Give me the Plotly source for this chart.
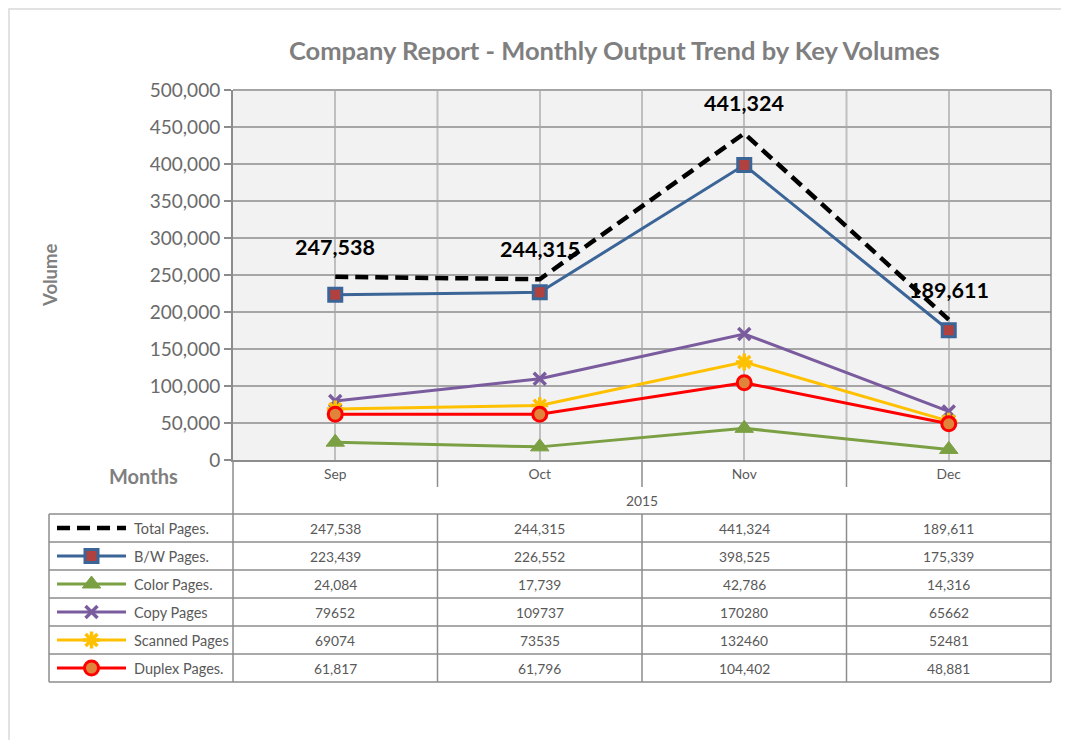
import plotly.graph_objects as go

W, H = 1069, 740

months = ["Sep", "Oct", "Nov", "Dec"]
year_label = "2015"
total_pages = [247538, 244315, 441324, 189611]
bw_pages = [223439, 226552, 398525, 175339]
color_pages = [24084, 17739, 42786, 14316]
copy_pages = [79652, 109737, 170280, 65662]
scanned_pages = [69074, 73535, 132460, 52481]
duplex_pages = [61817, 61796, 104402, 48881]

series_names = ["Total Pages.", "B/W Pages.", "Color Pages.", "Copy Pages", "Scanned Pages", "Duplex Pages."]
series_values = [total_pages, bw_pages, color_pages, copy_pages, scanned_pages, duplex_pages]
table_texts = [
    ["247,538", "244,315", "441,324", "189,611"],
    ["223,439", "226,552", "398,525", "175,339"],
    ["24,084", "17,739", "42,786", "14,316"],
    ["79652", "109737", "170280", "65662"],
    ["69074", "73535", "132460", "52481"],
    ["61,817", "61,796", "104,402", "48,881"],
]

FONT = "Lato"
GRAY = "#595959"
TICK_GRAY = "#6a6a6a"
TITLE_GRAY = "#7f7f7f"
LINE_GRAY = "#8c8c8c"

styles = [
    dict(line=dict(color="black", width=4.5, dash="13px,7px"), mode="lines", marker=None),
    dict(line=dict(color="#3b6597", width=3), mode="lines+markers",
         marker=dict(symbol="square", size=13, color="#b0413e", line=dict(color="#3b6597", width=3))),
    dict(line=dict(color="#7ba043", width=3), mode="lines+markers",
         marker=dict(symbol="triangle-up", size=16, color="#7ba043", line=dict(color="#7ba043", width=1))),
    dict(line=dict(color="#7a5c9e", width=3), mode="lines+markers",
         marker=dict(symbol="x-thin", size=12, color="#7a5c9e", line=dict(color="#7a5c9e", width=3.5))),
    dict(line=dict(color="#ffc000", width=3), mode="lines+markers",
         marker=dict(symbol="asterisk", size=14, color="#ffc000", line=dict(color="#ffc000", width=3.5))),
    dict(line=dict(color="#ff0000", width=3), mode="lines+markers",
         marker=dict(symbol="circle", size=14, color="#e0843c", line=dict(color="#ff0000", width=3))),
]

# the page body adds an 8px offset; compensate so pixel positions match
OX, OY = 8, 8


def px(x):
    return (x - OX) / W


def py(y):
    return 1 - (y - OY) / H


PL, PR, PT, PB = 233, 1051, 90, 460

fig = go.Figure()

order = [1, 2, 3, 4, 5, 0]
for i in order:
    st = styles[i]
    kw = dict(x=months, y=series_values[i], name=series_names[i], mode=st["mode"],
              line=st["line"], showlegend=False, xaxis="x", yaxis="y",
              hoverinfo="x+y+name")
    if st["marker"] is not None:
        kw["marker"] = st["marker"]
    fig.add_trace(go.Scatter(**kw))

row_top = 514
row_h = 28
for i in range(6):
    yc = row_top + row_h * (i + 0.5)
    st = styles[i]
    fig.add_trace(go.Scatter(x=[57, 126], y=[yc, yc], mode="lines", line=st["line"],
                             xaxis="x2", yaxis="y2", showlegend=False, hoverinfo="skip"))
    if st["marker"] is not None:
        fig.add_trace(go.Scatter(x=[91.5], y=[yc], mode="markers", marker=st["marker"],
                                 xaxis="x2", yaxis="y2", showlegend=False, hoverinfo="skip"))

shapes = []
shapes.append(dict(type="rect", xref="paper", yref="paper", x0=px(9), x1=px(1090), y0=py(9), y1=py(770),
                   line=dict(color="#d9d9d9", width=1.5), fillcolor="rgba(0,0,0,0)", layer="below"))
shapes.append(dict(type="rect", xref="paper", yref="paper", x0=px(PL), x1=px(PR), y0=py(PB), y1=py(PT),
                   line=dict(width=0), fillcolor="#f2f2f2", layer="below"))
for b in [0.5, 1.5, 2.5]:
    shapes.append(dict(type="line", xref="x", yref="paper", x0=b, x1=b, y0=py(PB), y1=py(PT),
                       line=dict(color="#bfbfbf", width=2), layer="below"))
    shapes.append(dict(type="line", xref="x", yref="paper", x0=b, x1=b, y0=py(487), y1=py(PB),
                       line=dict(color=LINE_GRAY, width=1.5)))
    shapes.append(dict(type="line", xref="x", yref="paper", x0=b, x1=b, y0=py(682), y1=py(514),
                       line=dict(color=LINE_GRAY, width=1.5)))
shapes.append(dict(type="line", xref="paper", yref="paper", x0=px(PL), x1=px(PR), y0=py(PT), y1=py(PT),
                   line=dict(color="#a6a6a6", width=2)))
shapes.append(dict(type="line", xref="paper", yref="paper", x0=px(PR), x1=px(PR), y0=py(682), y1=py(PT),
                   line=dict(color=LINE_GRAY, width=1.5)))
shapes.append(dict(type="line", xref="paper", yref="paper", x0=px(PL), x1=px(PL), y0=py(682), y1=py(PB),
                   line=dict(color=LINE_GRAY, width=1.5)))
shapes.append(dict(type="line", xref="paper", yref="paper", x0=px(49), x1=px(49), y0=py(682), y1=py(514),
                   line=dict(color=LINE_GRAY, width=1.5)))
for k in range(7):
    yy = row_top + row_h * k
    shapes.append(dict(type="line", xref="paper", yref="paper", x0=px(49), x1=px(PR), y0=py(yy), y1=py(yy),
                       line=dict(color=LINE_GRAY, width=1.5)))

annotations = []
annotations.append(dict(text="<b>Company Report - Monthly Output Trend by Key Volumes</b>", xref="paper",
                        yref="paper", x=px(614.5), y=py(50), showarrow=False,
                        font=dict(family=FONT, size=25.5, color=TITLE_GRAY), xanchor="center", yanchor="middle"))
annotations.append(dict(text="<b>Volume</b>", xref="paper", yref="paper", x=px(50), y=py(275), showarrow=False,
                        textangle=-90, font=dict(family=FONT, size=18.5, color=TITLE_GRAY),
                        xanchor="center", yanchor="middle"))
annotations.append(dict(text="<b>Months</b>", xref="paper", yref="paper", x=px(143), y=py(476), showarrow=False,
                        font=dict(family=FONT, size=20, color=TITLE_GRAY), xanchor="center", yanchor="middle"))
annotations.append(dict(text=year_label, xref="paper", yref="paper", x=px((PL + PR) / 2), y=py(500),
                        showarrow=False, font=dict(family=FONT, size=13.8, color=GRAY),
                        xanchor="center", yanchor="middle"))
for m, v in zip(months, total_pages):
    annotations.append(dict(text=f"<b>{v:,}</b>", xref="x", yref="y", x=m, y=v, yshift=30, showarrow=False,
                            font=dict(family=FONT, size=21.5, color="black"), xanchor="center", yanchor="middle"))
for i in range(6):
    yc = row_top + row_h * (i + 0.5)
    annotations.append(dict(text=series_names[i], xref="paper", yref="paper", x=px(132), y=py(yc),
                            showarrow=False, font=dict(family=FONT, size=14.5, color=GRAY),
                            xanchor="left", yanchor="middle"))
    for m, t in zip(months, table_texts[i]):
        annotations.append(dict(text=t, xref="x", yref="paper", x=m, y=py(yc), showarrow=False,
                                font=dict(family=FONT, size=13.8, color=GRAY),
                                xanchor="center", yanchor="middle"))

fig.update_layout(
    width=W, height=H,
    margin=dict(l=0, r=0, t=0, b=0, autoexpand=False),
    paper_bgcolor="white",
    plot_bgcolor="rgba(0,0,0,0)",
    font=dict(family=FONT, color=GRAY),
    showlegend=False,
    xaxis=dict(domain=[px(PL), px(PR)], type="category", range=[-0.5, 3.5], showgrid=True,
               gridcolor="#bfbfbf", gridwidth=2, showline=True, linecolor=LINE_GRAY, linewidth=2,
               ticks="", tickfont=dict(family=FONT, size=13.8, color=GRAY), anchor="y", fixedrange=True,
               zeroline=False, automargin=False),
    yaxis=dict(domain=[py(PB), py(PT)], range=[0, 500000], dtick=50000, tickformat=",",
               showgrid=True, gridcolor="#a6a6a6", gridwidth=2, showline=True, linecolor=LINE_GRAY,
               linewidth=2, ticks="outside", ticklen=7, tickcolor=LINE_GRAY, tickwidth=1.5,
               tickfont=dict(family=FONT, size=19, color=TICK_GRAY), anchor="x", zeroline=False,
               fixedrange=True, automargin=False),
    xaxis2=dict(domain=[0, 1], range=[OX, W + OX], visible=False, anchor="y2", fixedrange=True,
                automargin=False),
    yaxis2=dict(domain=[0, 1], range=[H + OY, OY], visible=False, anchor="x2", fixedrange=True,
                automargin=False),
    shapes=shapes,
    annotations=annotations,
)

fig.write_html("out.html")
